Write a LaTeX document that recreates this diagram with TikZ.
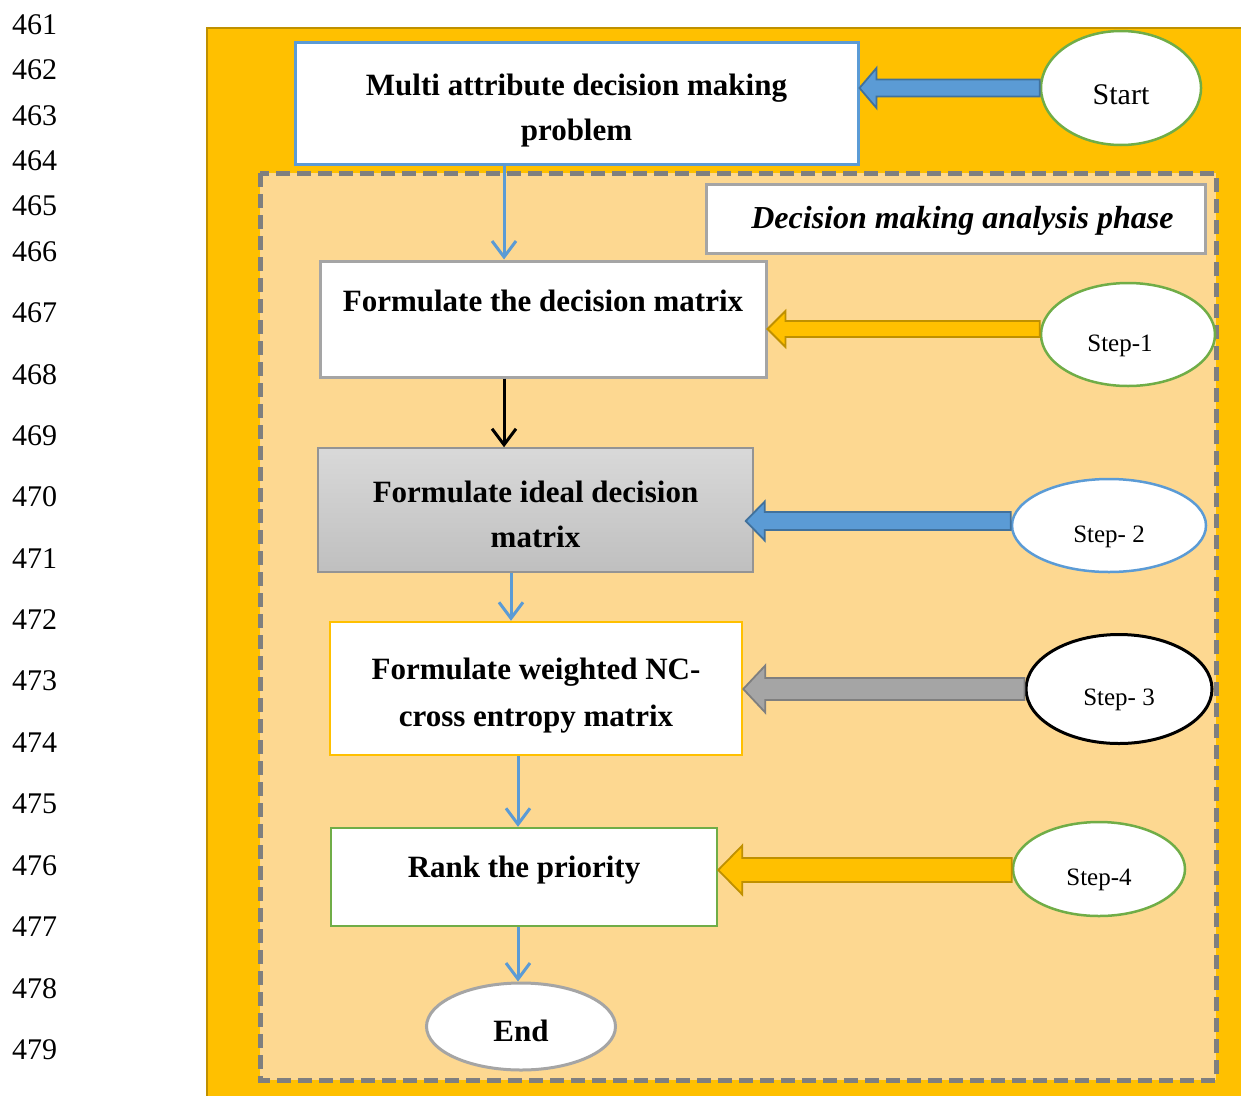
\documentclass[tikz,border=0pt]{standalone}
\usepackage{fontspec}
\setmainfont{Liberation Serif}
\usetikzlibrary{calc,arrows.meta,shapes.geometric}
\definecolor{blueA}{HTML}{5B9BD5}
\definecolor{blueD}{HTML}{41719C}
\definecolor{goldA}{HTML}{FFC000}
\definecolor{goldD}{HTML}{BF9000}
\definecolor{grayA}{HTML}{A5A5A5}
\definecolor{grayD}{HTML}{7F7F7F}
\definecolor{greenA}{HTML}{70AD47}
\definecolor{lightor}{HTML}{FDD891}
\newcommand\blockarrow[8]{%
  \draw[#1] let \p1=($(#3.east |- #2.west)+(-#8,#7)$), \p2=(#2.west) in
  (\x2,\y1+#4) -- (\x1+#6,\y1+#4) -- (\x1+#6,\y1+#5) -- (\x1,\y1) --
  (\x1+#6,\y1-#5) -- (\x1+#6,\y1-#4) -- (\x2,\y1-#4) -- cycle;}
\newcommand\upstrut[1]{\rule{0pt}{#1}}
\begin{document}
\begin{tikzpicture}[x=1pt,y=-1pt,
  box/.style={draw, fill=white, rectangle, inner sep=0pt, align=center,
    font=\fontsize{31}{45}\selectfont\bfseries},
  oval/.style={draw, fill=white, ellipse, inner sep=0pt},
  stepoval/.style={oval, line width=2.5pt, font=\fontsize{25}{30}\selectfont,
    text height=38pt, text depth=5pt},
  flow/.style={line width=3pt, -{Straight Barb[length=16pt,width=24pt]}},
  barrow/.style={line width=1.8pt, line join=miter}]
\useasboundingbox (0,0) rectangle (1241,1095);
\clip (0,0) rectangle (1241,1095);
% backgrounds
\path[fill=goldA, draw=goldD, line width=2.5pt] (207,28) rectangle (1270,1120);
\path[fill=lightor, draw=grayD, line width=5pt, dash pattern=on 14pt off 7pt] (260,173) rectangle (1216,1080);
% line numbers
\foreach \n/\yy in {461/25,462/70,463/116,464/161,465/206,466/252,467/313,468/375,469/436,470/497,471/559,472/620,473/681,474/743,475/804,476/866,477/927,478/989,479/1050}
  \node[anchor=west, inner sep=0pt, font=\fontsize{30}{36}\selectfont] (ln\n) at (12,\yy) {\n};
% boxes
\node[box, draw=blueA, line width=3pt, minimum width=563pt, minimum height=122pt] (prob) at (576.5,103) {\upstrut{37pt}Multi attribute decision making\\problem};
\node[box, draw=grayA, line width=3pt, minimum width=499pt, minimum height=69pt,
  font=\fontsize{32}{40}\selectfont\bfseries\itshape, text height=24pt, text depth=5pt] (phase) at (955.5,218.5) {\hspace*{14pt}Decision making analysis phase};
\node[box, draw=grayA, line width=3pt, minimum width=446pt, minimum height=116pt,
  text height=22pt, text depth=38pt] (dm) at (543,319) {Formulate the decision matrix};
\node[box, draw=grayA!90!black, line width=1.5pt, top color=black!15, bottom color=black!25,
  minimum width=435pt, minimum height=124pt] (ideal) at (535.5,510) {\upstrut{30pt}Formulate ideal decision\\matrix};
\node[box, draw=goldA, line width=2.5pt, minimum width=412pt, minimum height=133pt,
  font=\fontsize{31}{47}\selectfont\bfseries] (weighted) at (536,688.5) {\upstrut{36pt}Formulate weighted NC-\\cross entropy matrix};
\node[box, draw=greenA, line width=2.5pt, minimum width=386pt, minimum height=98pt,
  text height=22pt, text depth=22pt] (rank) at (524,877) {Rank the priority};
\node[oval, draw=grayA, line width=3pt, minimum width=189pt, minimum height=87pt,
  font=\fontsize{31}{36}\selectfont\bfseries, text height=32pt, text depth=2pt] (end) at (521,1026.5) {End};
% ovals
\node[oval, draw=greenA, line width=2.5pt, minimum width=160pt, minimum height=114pt,
  font=\fontsize{30}{36}\selectfont, text height=34pt, text depth=2pt] (start) at (1121,88) {Start};
\node[stepoval, draw=greenA, minimum width=174pt, minimum height=103pt] (s1) at (1128,334.5) {\hspace*{-16pt}Step-1};
\node[stepoval, draw=blueA, minimum width=194pt, minimum height=93pt] (s2) at (1109,525.5) {Step- 2};
\node[stepoval, draw=black, line width=3pt, minimum width=186pt, minimum height=109pt] (s3) at (1119,689) {Step- 3};
\node[stepoval, draw=greenA, minimum width=172pt, minimum height=94pt] (s4) at (1099,869) {Step-4};
% block arrows
\blockarrow{barrow, fill=blueA, draw=blueD}{start}{prob}{8.5pt}{20pt}{17pt}{0pt}{0pt}
\blockarrow{barrow, fill=goldA, draw=goldD}{s1}{dm}{8pt}{18pt}{18pt}{5.5pt}{0pt}
\blockarrow{barrow, fill=blueA, draw=blueD}{s2}{ideal}{9pt}{19.5pt}{19pt}{4.5pt}{8pt}
\blockarrow{barrow, fill=grayA, draw=grayD}{s3}{weighted}{11pt}{23.5pt}{22pt}{0pt}{0pt}
\blockarrow{barrow, fill=goldA, draw=goldD}{s4}{rank}{12pt}{24.5pt}{24pt}{-1pt}{0pt}
% flow arrows
\coordinate (xa) at (504,0);
\coordinate (xb) at (511,0);
\coordinate (xc) at (518,0);
\draw[flow, blueA] (xa |- prob.south) -- (xa |- dm.north);
\draw[flow, black] (xa |- dm.south) -- (xa |- ideal.north);
\draw[flow, blueA] (xb |- ideal.south) -- (xb |- weighted.north);
\draw[flow, blueA] (xc |- weighted.south) -- (xc |- rank.north);
\draw[flow, blueA] (xc |- rank.south) -- (xc |- end.north);
\end{tikzpicture}
\end{document}
